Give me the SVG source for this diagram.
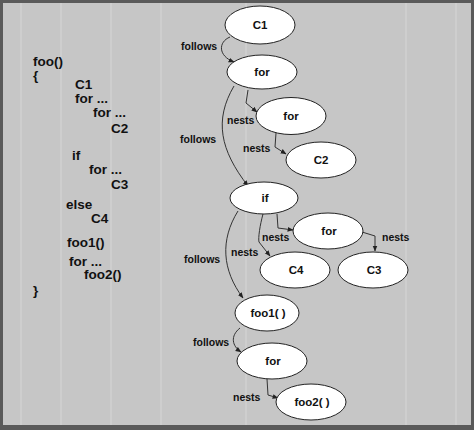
<svg xmlns="http://www.w3.org/2000/svg" width="474" height="430" viewBox="0 0 474 430">
<defs>
<marker id="ah" viewBox="0 0 10 10" refX="9" refY="5" markerWidth="6" markerHeight="6" orient="auto" markerUnits="userSpaceOnUse">
<path d="M0,1 L10,5 L0,9 Z" fill="#222"/>
</marker>
</defs>
<style>
.code{font-family:"Liberation Sans",Arial,sans-serif;font-weight:bold;font-size:13.5px;fill:#111}
.node ellipse{fill:#fff;stroke:#222;stroke-width:1}
.node text{font-family:"Liberation Sans",Arial,sans-serif;font-weight:bold;font-size:11.5px;fill:#111;text-anchor:middle}
.edge{fill:none;stroke:#333;stroke-width:1;marker-end:url(#ah)}
.lbl{font-family:"Liberation Sans",Arial,sans-serif;font-weight:bold;font-size:10.5px;fill:#111}
</style>
<rect x="0" y="0" width="474" height="430" fill="#5a5a5a"/>
<rect x="3" y="3" width="468" height="422" fill="#c6c6c6"/>
<g opacity="0.2" fill="#eeeeee">
<rect x="20" y="3" width="2" height="422"/>
<rect x="60" y="3" width="2" height="422"/>
<rect x="110" y="3" width="2" height="422"/>
<rect x="160" y="3" width="2" height="422"/>
<rect x="245" y="3" width="2" height="422"/>
<rect x="405" y="3" width="2" height="422"/>
<rect x="455" y="3" width="2" height="422"/>
</g>
<g id="code">
<text class="code" x="33" y="66">foo()</text>
<text class="code" x="33" y="80">{</text>
<text class="code" x="75" y="89">C1</text>
<text class="code" x="75" y="103">for ...</text>
<text class="code" x="93" y="117">for ...</text>
<text class="code" x="111" y="133">C2</text>
<text class="code" x="72" y="160">if</text>
<text class="code" x="89" y="174">for ...</text>
<text class="code" x="111" y="189">C3</text>
<text class="code" x="66" y="209">else</text>
<text class="code" x="91" y="223">C4</text>
<text class="code" x="67" y="247">foo1()</text>
<text class="code" x="69" y="266">for ...</text>
<text class="code" x="84" y="279">foo2()</text>
<text class="code" x="33" y="295">}</text>
</g>
<g id="connectors">
<path class="edge" d="M230,37 C218,42 218,56 234,62"/>
<text class="lbl" x="181" y="50">follows</text>
<path class="edge" d="M248,90 L246,103 L257,112"/>
<text class="lbl" x="227" y="124">nests</text>
<path class="edge" d="M276,133 L275,147 L286,154"/>
<text class="lbl" x="243" y="152">nests</text>
<path class="edge" d="M234,86 C214,120 220,150 248,186"/>
<text class="lbl" x="180" y="143">follows</text>
<path class="edge" d="M277,214 L278,228 L293,230"/>
<text class="lbl" x="262" y="241">nests</text>
<path class="edge" d="M263,214 C260,225 258,238 259,242 L270,256"/>
<text class="lbl" x="231" y="256">nests</text>
<path class="edge" d="M362,232 L375,236 L375,251"/>
<text class="lbl" x="382" y="241">nests</text>
<path class="edge" d="M238,211 C220,240 222,270 243,298"/>
<text class="lbl" x="184" y="263">follows</text>
<path class="edge" d="M240,328 C230,336 232,346 241,352"/>
<text class="lbl" x="193" y="346">follows</text>
<path class="edge" d="M267,379 L268,395 L278,398"/>
<text class="lbl" x="233" y="401">nests</text>
</g>
<g id="n_c1" class="node"><ellipse cx="260" cy="25" rx="35" ry="19"/><text x="260" y="29">C1</text></g>
<g id="n_for1" class="node"><ellipse cx="262" cy="72" rx="35" ry="17"/><text x="262" y="76">for</text></g>
<g id="n_for2" class="node"><ellipse cx="291" cy="116" rx="35" ry="18.5"/><text x="291" y="120">for</text></g>
<g id="n_c2" class="node"><ellipse cx="321" cy="160" rx="35" ry="18"/><text x="321" y="164">C2</text></g>
<g id="n_if" class="node"><ellipse cx="264" cy="198" rx="34" ry="16"/><text x="265" y="202">if</text></g>
<g id="n_for3" class="node"><ellipse cx="328" cy="231" rx="35" ry="18"/><text x="329" y="235">for</text></g>
<g id="n_c4" class="node"><ellipse cx="295" cy="270" rx="35" ry="18"/><text x="296" y="274">C4</text></g>
<g id="n_c3" class="node"><ellipse cx="373" cy="270" rx="35" ry="18"/><text x="374" y="274">C3</text></g>
<g id="n_foo1" class="node"><ellipse cx="267" cy="313" rx="32" ry="18"/><text x="268" y="317">foo1( )</text></g>
<g id="n_for4" class="node"><ellipse cx="272" cy="361" rx="35" ry="18"/><text x="273" y="365">for</text></g>
<g id="n_foo2" class="node"><ellipse cx="311" cy="402" rx="35" ry="18"/><text x="312" y="406">foo2( )</text></g>
</svg>
